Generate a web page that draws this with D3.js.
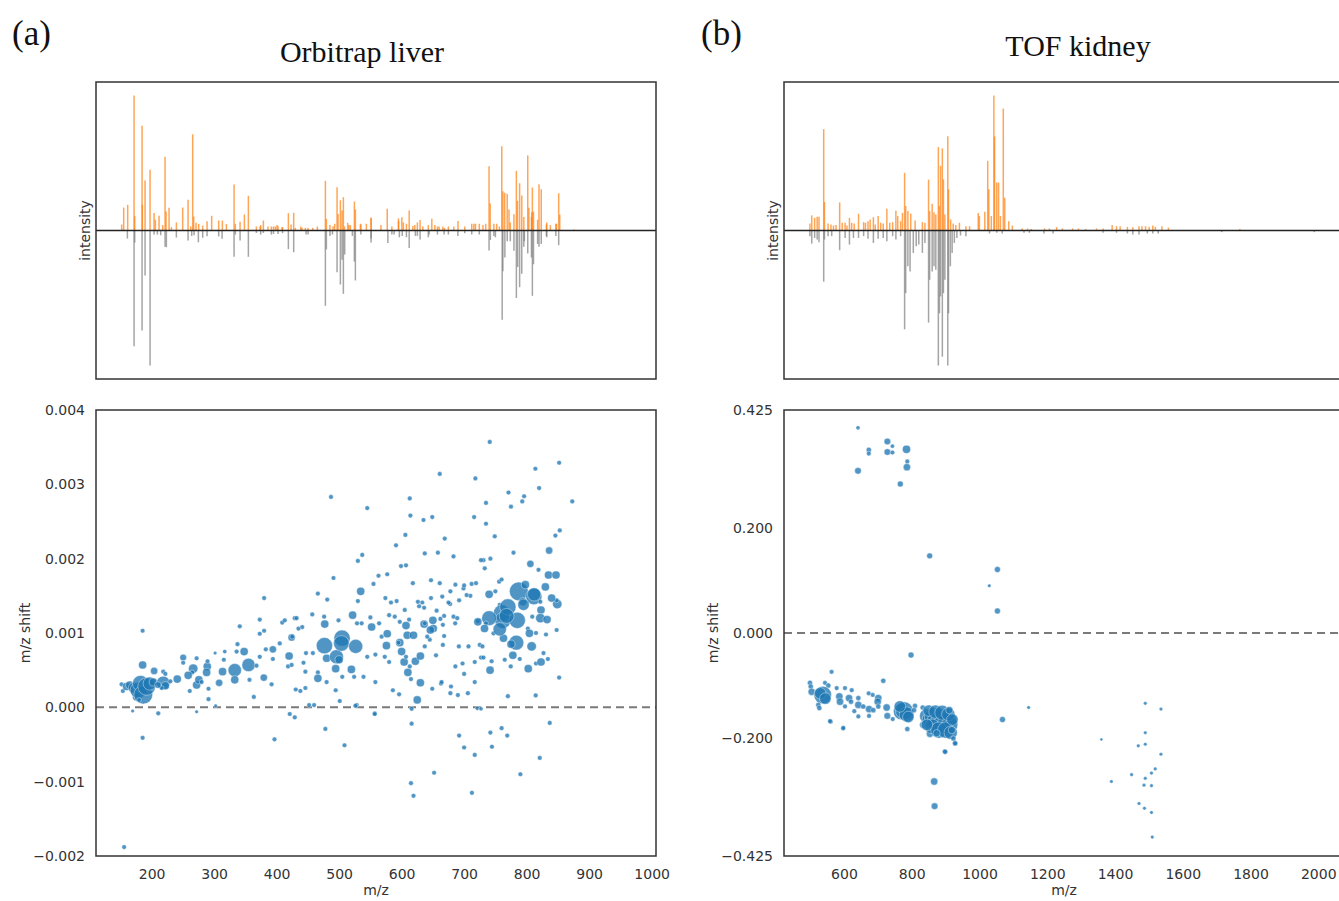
<!DOCTYPE html>
<html>
<head>
<meta charset="utf-8">
<script src="https://cdn.jsdelivr.net/npm/d3@7"></script>
<style>
  body { margin: 0; background: #fff; }
  .tick text { font-family: "DejaVu Sans", sans-serif; font-size: 14px; fill: #333; }
  .axis-label { font-family: "DejaVu Sans", sans-serif; font-size: 14px; fill: #333; }
  .title { font-family: "Liberation Serif", "DejaVu Serif", serif; fill: #111; }
</style>
</head>
<body>
<script>
// ---- data: spectra as [m/z, relative intensity] (measured up, reference down) ----
const orbiMeasured = [
  [152.1,0.044],[155.3,0.17],[161.7,0.19],[171.9,1.0],[172.9,0.106],[184.7,0.776],[185.2,0.19],[189.5,0.37],
  [197.5,0.45],[203.9,0.13],[206,0.08],[211.9,0.11],[217.7,0.04],[221.5,0.546],[223.1,0.14],[227.9,0.168],
  [231.6,0.025],[239.6,0.06],[249.7,0.17],[258.3,0.227],[262.5,0.03],[265.7,0.713],[267.3,0.104],[271.1,0.057],
  [275.3,0.049],[281.7,0.037],[288.7,0.069],[296.1,0.109],[307.3,0.074],[313.2,0.074],[319.6,0.049],[331.9,0.34],
  [334,0.049],[341.5,0.064],[348.4,0.119],[354.8,0.257],[367.6,0.03],[373.5,0.03],[374.5,0.04],[378.8,0.074],
  [386.2,0.03],[391.6,0.03],[395,0.03],[398,0.03],[400.7,0.04],[402.3,0.032],[408.7,0.025],[409.5,0.025],
  [418.8,0.128],[423.1,0.044],[427.3,0.131],[429.9,0.02],[438.6,0.03],[440.7,0.02],[446,0.02],[450.3,0.02],
  [457.7,0.02],[465.2,0.03],[478,0.368],[479.6,0.086],[485.3,0.04],[490.3,0.032],[492.9,0.05],[496.7,0.32],
  [498.3,0.123],[502,0.224],[504.7,0.148],[506.8,0.247],[508.6,0.03],[513.7,0.057],[515.6,0.04],[518,0.04],
  [524.4,0.215],[526,0.156],[534,0.044],[534.8,0.05],[543.6,0.05],[551.1,0.096],[551.2,0.09],[566.9,0.04],
  [577,0.161],[584.4,0.03],[594.9,0.09],[595.1,0.07],[600.4,0.099],[602.8,0.06],[607.7,0.05],[612.1,0.148],
  [618,0.034],[621.1,0.04],[625.2,0.06],[629.5,0.077],[634,0.03],[642.7,0.04],[648.3,0.087],[653.2,0.04],
  [657.3,0.03],[659.9,0.03],[666,0.03],[668.7,0.02],[674.8,0.03],[683.5,0.03],[690.2,0.07],[701,0.03],
  [712.2,0.05],[715.6,0.05],[718.2,0.05],[724.3,0.05],[730.1,0.04],[734.5,0.05],[739.9,0.476],[741.7,0.2],
  [747.6,0.05],[752.1,0.05],[756.4,0.03],[760.2,0.625],[762,0.29],[764.9,0.28],[768.9,0.273],[771.8,0.155],
  [773.9,0.06],[779.7,0.12],[783.6,0.442],[785.4,0.22],[788.8,0.35],[792.2,0.26],[795.5,0.1],[801.8,0.556],
  [803.6,0.168],[807.7,0.1],[808.2,0.135],[809.2,0.318],[811,0.14],[817.6,0.08],[819.8,0.342],[823.4,0.305],
  [831.6,0.045],[832.2,0.06],[838,0.04],[846.7,0.05],[847.9,0.05],[851.3,0.276],[853,0.118],[875.9,0.008]
];
const orbiReference = [
  [161.2,0.06],[171.9,0.857],[172.9,0.09],[184.7,0.74],[189.5,0.333],[197.5,1.0],[203.9,0.03],[209.2,0.03],
  [214.5,0.035],[221.5,0.12],[223.6,0.124],[239.6,0.052],[258.3,0.074],[264.1,0.04],[267.9,0.035],[274.8,0.087],
  [281.7,0.054],[288.7,0.042],[307.3,0.044],[312.7,0.062],[331.9,0.195],[334,0.03],[341.5,0.074],[354.8,0.195],
  [367.6,0.018],[374.5,0.03],[378.8,0.018],[391.6,0.03],[395,0.025],[402.3,0.025],[409.5,0.02],[418.8,0.138],
  [427.3,0.161],[447.1,0.03],[450.3,0.03],[478,0.558],[479.6,0.14],[485.3,0.04],[489.3,0.03],[496.7,0.309],
  [502,0.4],[504.7,0.216],[506.8,0.469],[508.9,0.178],[521.2,0.04],[524.4,0.23],[526,0.37],[534.8,0.03],
  [551.1,0.089],[551.2,0.06],[578,0.092],[584.4,0.03],[588,0.03],[596.4,0.05],[601,0.04],[607.7,0.05],
  [612.1,0.129],[622,0.04],[625.2,0.04],[629.5,0.067],[642.7,0.05],[644,0.03],[657.3,0.03],[668,0.03],
  [674.8,0.03],[690,0.04],[701,0.02],[712.2,0.03],[724.3,0.03],[739.9,0.149],[742,0.07],[747.6,0.04],
  [750,0.05],[760.9,0.662],[762,0.302],[765.2,0.2],[769,0.08],[773.9,0.08],[779.7,0.15],[783.6,0.5],
  [785.7,0.27],[788.8,0.42],[792.2,0.32],[795.5,0.12],[796.4,0.08],[801.8,0.17],[807.7,0.2],[809.2,0.484],
  [811,0.25],[817.6,0.1],[819.8,0.12],[823.4,0.1],[831.6,0.04],[832.2,0.05],[846.7,0.04],[851.3,0.109]
];
const tofMeasured = [
  [499.5,0.052],[504.9,0.112],[513.4,0.094],[520.9,0.102],[526.3,0.102],[540.2,0.751],[542.4,0.211],[553.1,0.052],
  [561.6,0.045],[569.1,0.037],[576.6,0.04],[587.3,0.208],[594.8,0.057],[603.4,0.057],[608.8,0.037],[616.2,0.094],
  [622.7,0.057],[630.2,0.052],[643,0.124],[658,0.062],[663.4,0.057],[670.9,0.069],[677.3,0.082],[686.9,0.099],
  [692.3,0.045],[700.9,0.107],[708.4,0.057],[715.8,0.052],[726.6,0.161],[735.1,0.057],[743.7,0.062],[753.3,0.146],
  [758.7,0.107],[767.3,0.069],[772.6,0.131],[779,0.427],[782.2,0.181],[788.7,0.144],[797.2,0.126],[810.1,0.074],
  [831.5,0.062],[839,0.057],[849.7,0.377],[852.9,0.144],[860.4,0.198],[865.8,0.136],[871.1,0.119],[878.6,0.618],
  [881.9,0.181],[885.1,0.479],[890.4,0.608],[893.6,0.379],[897.9,0.119],[906.5,0.699],[908.6,0.305],[915,0.082],
  [922.5,0.052],[930.1,0.04],[940.8,0.057],[960,0.032],[970.8,0.032],[996.4,0.129],[999.7,0.107],[1015.7,0.139],
  [1024.3,0.516],[1027.5,0.305],[1035,0.107],[1042.5,1.0],[1044.6,0.697],[1051.1,0.355],[1056.4,0.355],[1061.8,0.107],
  [1070.3,0.903],[1074.6,0.243],[1086.4,0.069],[1097.1,0.037],[1126,0.015],[1142.1,0.015],[1152.8,0.012],[1192.4,0.015],
  [1206.4,0.015],[1227.8,0.025],[1244.9,0.015],[1274.9,0.015],[1292,0.015],[1313.4,0.012],[1345.6,0.015],[1364.9,0.015],
  [1391.6,0.04],[1404.5,0.032],[1415.2,0.032],[1436.6,0.027],[1452.7,0.025],[1470.9,0.032],[1479.5,0.032],[1490.2,0.032],
  [1500.9,0.027],[1511.6,0.037],[1519.1,0.027],[1538.4,0.032],[1557.7,0.022],[1768.6,0.012]
];
const tofReference = [
  [499.5,0.042],[504.9,0.097],[513.4,0.055],[520.9,0.067],[526.3,0.087],[540.2,0.379],[542.4,0.067],[553.1,0.042],
  [563.8,0.042],[587.3,0.146],[603.4,0.055],[616.2,0.104],[628,0.055],[643,0.055],[658,0.042],[670.9,0.062],
  [686.9,0.092],[700.9,0.062],[715.8,0.055],[726.6,0.079],[743.7,0.042],[753.3,0.067],[767.3,0.042],[779,0.732],
  [782.2,0.464],[788.7,0.265],[795.1,0.303],[804.7,0.166],[813.3,0.117],[820.8,0.104],[831.5,0.166],[839,0.092],
  [849.7,0.682],[852.9,0.365],[860.4,0.303],[865.8,0.265],[871.1,0.29],[878.6,1.0],[881.9,0.613],[885.1,0.488],
  [890.4,0.935],[893.6,0.464],[897.9,0.365],[906.5,1.0],[908.6,0.613],[914,0.265],[919.3,0.166],[925.8,0.092],
  [933.3,0.055],[944,0.037],[960,0.042],[1029.6,0.022],[1051.1,0.017],[1067.1,0.022],[1131.4,0.017],[1147.4,0.017],
  [1190.3,0.022],[1217.1,0.022],[1364.9,0.017],[1404.5,0.017],[1436.6,0.022],[1452.7,0.03],[1470.9,0.03],[1495.5,0.022],
  [1511.6,0.022],[1527.7,0.022],[1715.1,0.012],[1988.2,0.012]
];

// ---- data: m/z shift per matched peak, [m/z, shift, peak weight] ----
// Orbitrap shifts are in mDa (0.001 Da)
const orbiShift = [
  [152,0.31,.05],[154,0.22,.05],[160,0.28,.15],[165,0.30,.15],[171,0.26,.25],[176,0.14,.15],[178.6,0.23,.6],
  [182.4,0.32,.6],[186.6,0.17,.8],[192,0.28,.7],[197,0.32,.4],[202.6,0.34,.15],[180,0.10,.05],[169.6,-0.05,.03],
  [185.6,1.03,.05],[185.6,0.57,.15],[204,0.49,.12],[218.6,0.48,.05],[222,0.45,.05],[218.6,0.33,.4],[222,0.29,.15],
  [216,0.26,.05],[210,0.30,.1],[230,0.35,.05],[241,0.38,.15],[250.5,0.67,.1],[250.5,0.60,.05],[261,0.22,.05],
  [266.5,0.52,.2],[265,0.47,.05],[258.5,0.43,.15],[272,0.30,.15],[275.6,0.37,.15],[272,0.66,.05],[280,0.34,.05],
  [289,0.55,.15],[289.5,0.62,.05],[288,0.47,.15],[291,0.25,.05],[291,0.11,.05],[301.6,0.73,.03],[302.5,0.02,.03],
  [308,0.33,.12],[313.5,0.48,.15],[315.5,0.64,.05],[317,0.75,.04],[333,0.50,.4],[333,0.37,.15],[337.4,0.85,.05],
  [341,1.09,.05],[336,0.75,.05],[348,0.75,.15],[355,0.57,.4],[356.6,0.37,.05],[363.5,0.14,.05],[367.8,0.56,.05],
  [373,1.18,.05],[373,0.99,.05],[380,1.03,.05],[380,1.47,.05],[373,0.68,.05],[379.5,0.40,.12],[382.7,0.78,.05],
  [392,0.31,.05],[394,0.78,.12],[394,0.65,.05],[405,0.86,.05],[409,1.14,.05],[413,1.17,.05],[420,0.69,.15],
  [418.3,0.55,.05],[424,0.94,.12],[425,0.95,.05],[429,1.20,.05],[435,1.06,.05],[430.6,0.24,.05],[210.6,-0.08,.05],
  [272,-0.06,.03],[421,-0.09,.05],[429,-0.135,.05],[185.6,-0.41,.05],[156,-1.88,.05],[396.6,-0.43,.05],
  [441,1.08,.05],[432,1.20,.05],[424,0.57,.05],[447,0.73,.05],[458,0.73,.05],[443,0.60,.05],[446,0.48,.05],
  [466,0.47,.05],[466,0.39,.15],[446,0.26,.05],[438,0.22,.05],[480,0.34,.05],[476.5,0.83,.6],[480,0.66,.15],
  [495.7,0.68,.45],[504.7,0.93,.6],[503.6,0.86,.55],[500,0.64,.15],[526.5,0.82,.45],[545,0.68,.05],[558,0.71,.05],
  [494.5,0.52,.15],[505,0.41,.05],[519.6,0.51,.15],[524,0.41,.05],[539,0.41,.05],[558,0.34,.05],[494.5,0.23,.05],
  [501,0.085,.05],[528,0.03,.05],[557,-0.08,.05],[586,0.23,.05],[596,0.175,.05],[457,1.25,.05],[466,1.53,.05],
  [481,1.45,.05],[476,1.22,.05],[477,1.12,.15],[499,1.17,.05],[521.6,1.24,.15],[528.6,1.13,.05],[536,1.13,.05],
  [550,1.21,.05],[552,1.08,.15],[564,1.13,.05],[568,0.95,.05],[534.5,1.56,.15],[530,1.43,.05],[491,1.74,.05],
  [574,1.47,.05],[592,1.43,.05],[583,1.41,.05],[580,1.24,.05],[589,1.22,.05],[605,1.31,.05],[597,1.15,.05],
  [612,1.18,.05],[607,1.10,.15],[609,0.97,.15],[619,0.97,.15],[597,0.87,.15],[600,0.75,.15],[604,0.61,.15],
  [607,0.68,.05],[610,0.47,.15],[613,0.55,.05],[615,0.38,.05],[622,0.62,.15],[630,0.69,.15],[630,0.33,.15],
  [625,0.10,.15],[577,0.99,.15],[575.7,0.83,.15],[573,0.68,.05],[580,0.61,.05],[595,0.87,.05],[563,1.77,.05],
  [577,1.79,.05],[555,1.66,.05],[618,1.67,.05],[647,1.71,.05],[661,1.67,.05],[599,1.90,.05],[607,1.91,.05],
  [537,2.05,.05],[530,1.97,.05],[591,2.18,.05],[637,2.07,.05],[658,2.08,.05],[683,2.03,.05],[606,2.32,.05],
  [669,2.27,.05],[614,2.58,.05],[635,2.52,.05],[649,2.56,.05],[487,2.83,.05],[613,2.81,.05],[545,2.68,.05],
  [661,3.14,.05],[718,3.08,.05],[735,2.75,.05],[716,2.56,.05],[735,2.47,.05],[749,2.30,.05],[741,3.57,.05],
  [852,3.29,.05],[814,3.21,.05],[873,2.77,.05],[820,2.95,.05],[796,2.84,.05],[793,2.77,.05],[771,2.89,.05],
  [775,2.70,.05],[853,2.38,.05],[846,2.31,.05],[836,2.11,.12],[779,2.08,.05],[731,1.98,.05],[742,2.00,.05],
  [806,1.93,.12],[819,1.85,.05],[835,1.78,.15],[847,1.78,.15],[756,1.69,.05],[733,1.87,.05],
  [710,1.50,.05],[699,1.60,.05],[686,1.65,.05],[678,1.56,.05],[665,1.49,.05],[647,1.47,.05],[633,1.41,.05],
  [636,1.34,.05],[636,1.12,.15],[650.6,1.06,.15],[677.6,1.39,.05],[683,1.22,.05],[685.7,1.13,.05],[666,1.11,.05],
  [668,0.96,.05],[645,0.91,.05],[637,0.82,.05],[666,0.84,.05],[691.6,0.82,.05],[697.5,0.59,.05],[707,0.82,.05],
  [717,0.61,.05],[727,0.67,.05],[717,0.34,.05],[706,0.19,.05],[690,0.165,.05],[679,0.28,.05],[663,0.32,.05],
  [649,0.25,.05],[664,0.34,.05],[678,0.19,.05],[668,1.23,.05],[650,1.17,.15],[646,1.04,.15],[637,1.13,.05],
  [704,1.51,.05],[700,1.64,.05],[712,1.66,.05],[719,1.67,.05],[692,1.44,.05],[675,1.41,.05],[656,1.30,.05],
  [628,1.36,.05],[626,1.42,.05],[662,1.19,.05],[689,1.20,.05],[722,1.16,.05],[641,0.95,.05],[655,0.70,.05],
  [700,0.45,.05],[686,0.55,.05],
  [740,1.52,.15],[750,1.56,.05],[787.5,1.56,.8],[798,1.65,.15],[811.5,1.49,.6],[794,1.42,.15],[822,1.42,.05],
  [849,1.39,.2],[848,1.44,.05],[757,1.38,.05],[760,1.27,.6],[762,1.17,.6],[740,1.20,.5],[735,1.13,.05],
  [722,1.15,.15],[785,1.17,.6],[823,1.31,.15],[822,1.20,.2],[809,1.22,.05],[832.7,1.18,.15],[802,1.06,.05],
  [804.5,0.995,.15],[815,1.00,.05],[848,1.04,.05],[831,0.98,.05],[763,0.93,.15],[747,0.995,.05],[732.6,1.06,.15],
  [725,0.84,.05],[729.4,0.82,.05],[783.5,0.87,.5],[775,0.85,.15],[808,0.82,.2],[778,0.70,.15],[789,0.65,.05],
  [765,0.64,.05],[774.6,0.55,.05],[802.6,0.52,.15],[815,0.59,.05],[823,0.61,.15],[827,0.73,.05],[834,0.65,.05],
  [741.5,0.50,.15],[744,0.62,.05],[731,0.67,.05],[852,0.40,.05],[814.5,0.16,.05],[770,0.15,.05],[721,-0.013,.04],
  [727,-0.02,.04],[760,-0.28,.05],[837,-0.21,.05],[742,-0.34,.05],[769,-0.38,.05],[744.5,-0.53,.05],[790,-0.90,.05],
  [821,-0.68,.05],[692,-0.38,.05],[700,-0.54,.05],[717,-0.64,.05],[712.5,-1.15,.05],[652,-0.88,.05],[615,-1.02,.05],
  [619,-1.19,.05],[616,-0.22,.05],[616,-0.02,.05],[557,-0.09,.05],[508.6,-0.51,.05],[478,-0.29,.05],[452,0.03,.05],
  [460,0.03,.05],[526,0.02,.05],[727,1.98,.05],[760,1.72,.05],[770,1.35,.6],[812,1.52,.4],[830,1.62,.15],
  [840,1.47,.15],[768,1.23,.5],[757,1.05,.4],[795,1.38,.3]
];
// TOF shifts are in Da
const tofShift = [
  [641.4,0.391,.04],[673.3,0.349,.06],[673.3,0.342,.05],[728.2,0.365,.1],[743,0.356,.04],[728.2,0.345,.1],
  [743,0.344,.05],[784.6,0.350,.15],[787,0.327,.05],[785.8,0.316,.12],[641.4,0.309,.1],[766.3,0.284,.08],
  [853,0.147,.08],[1053,0.121,.08],[1029,0.090,.03],[1053,0.042,.08],
  [797.9,-0.042,.08],[1489.4,-0.134,.03],[1535.7,-0.145,.03],[1145,-0.142,.03],[1067.9,-0.165,.08],
  [1359.8,-0.203,.02],[1489.4,-0.19,.03],[1489.4,-0.212,.03],[1468.8,-0.215,.03],[1535.7,-0.231,.03],
  [1518.7,-0.259,.03],[1507.7,-0.267,.03],[1449,-0.270,.03],[1489.4,-0.277,.03],[1389.4,-0.283,.03],
  [1485.6,-0.290,.03],[1507.7,-0.291,.03],[1471,-0.325,.03],[1487,-0.334,.03],[1507.7,-0.342,.03],
  [1510,-0.389,.03],[866.3,-0.283,.12],[867.5,-0.33,.1],[899.4,-0.227,.05],[928.6,-0.211,.05],
  [560.8,-0.169,.05],[597.4,-0.182,.05],[563.5,-0.074,.05],[716,-0.091,.06],
  [499.7,-0.095,.06],[502,-0.102,.06],[544,-0.095,.05],[553.8,-0.10,.06],[504.8,-0.112,.12],[537.2,-0.118,.7],
  [530,-0.115,.3],[545,-0.125,.3],[524.3,-0.137,.06],[527.3,-0.143,.06],[578.5,-0.105,.05],[586.3,-0.121,.12],
  [603,-0.105,.05],[588.3,-0.131,.12],[603,-0.14,.05],[622.8,-0.109,.05],[614.9,-0.124,.12],[620.8,-0.131,.06],
  [642.4,-0.124,.06],[642.4,-0.137,.12],[630.5,-0.149,.05],[657,-0.14,.06],[673,-0.115,.05],[684.8,-0.118,.05],
  [674,-0.145,.12],[686.6,-0.147,.06],[701.3,-0.124,.12],[699.6,-0.131,.12],[701.3,-0.14,.06],[674,-0.158,.05],
  [642.4,-0.159,.05],[726,-0.142,.12],[728,-0.158,.1],[744,-0.164,.05],[770,-0.15,.6],[778,-0.148,.7],
  [785,-0.155,.5],[765,-0.14,.3],[790,-0.16,.3],[809.7,-0.139,.06],[806.7,-0.147,.06],[787,-0.183,.06],
  [832.4,-0.142,.06],[834,-0.175,.12],[853.9,-0.192,.12],[845,-0.158,.5],[855,-0.165,.6],[865,-0.160,.8],
  [875,-0.168,.9],[885,-0.162,.8],[895,-0.172,.9],[905,-0.168,.8],[912,-0.175,.6],[860,-0.178,.5],
  [880,-0.185,.6],[900,-0.185,.6],[915,-0.19,.4],[850,-0.148,.3],[870,-0.15,.4],[890,-0.152,.5],
  [908,-0.155,.4],[845,-0.175,.3],[920,-0.165,.3],[911,-0.147,.12],[918.5,-0.185,.12],[923,-0.201,.06],
  [928,-0.21,.06],[898,-0.226,.06],[873.5,-0.191,.12],[558.8,-0.168,.05],[598,-0.181,.05]
];

// ---- tick values ----
const orbiXTicks = [200, 300, 400, 500, 600, 700, 800, 900, 1000];
const orbiYTicks = [-0.002, -0.001, 0, 0.001, 0.002, 0.003, 0.004];
const tofXTicks = [600, 800, 1000, 1200, 1400, 1600, 1800, 2000];
const tofYTicks = [-0.425, -0.2, 0, 0.2, 0.425];

const W = 1339, H = 901;
const svg = d3.select("body").append("svg").attr("width", W).attr("height", H);

const specTop = 82, specBottom = 379, shiftTop = 410, shiftBottom = 856;
const fmt = v => d3.format(".3f")(v).replace("-", "\u2212");

function drawPanel(opt) {
    const x = d3.scaleLinear().domain(opt.xDomain).range([opt.left, opt.left + 560]);
    const ySpec = d3.scaleLinear().domain([-1.1, 1.1]).range([specBottom, specTop]);
    const yShift = d3.scaleLinear().domain(opt.yDomain).range([shiftBottom, shiftTop]);

    // spectrum: measured up (orange), reference down (gray)
    const spec = svg.append("g");
    spec.selectAll(".up").data(opt.measured).enter().append("line")
        .attr("x1", d => x(d[0])).attr("x2", d => x(d[0]))
        .attr("y1", ySpec(0)).attr("y2", d => ySpec(d[1]))
        .style("stroke", "#ff7f0e").style("stroke-opacity", 0.7).style("stroke-width", 1.5);
    spec.selectAll(".down").data(opt.reference).enter().append("line")
        .attr("x1", d => x(d[0])).attr("x2", d => x(d[0]))
        .attr("y1", ySpec(0)).attr("y2", d => ySpec(-d[1]))
        .style("stroke", "#7f7f7f").style("stroke-opacity", 0.7).style("stroke-width", 1.5);
    spec.append("line")
        .attr("x1", opt.left).attr("x2", opt.left + 560)
        .attr("y1", ySpec(0)).attr("y2", ySpec(0))
        .style("stroke", "#222").style("stroke-width", 1.6);
    spec.append("rect")
        .attr("x", opt.left).attr("y", specTop)
        .attr("width", 560).attr("height", specBottom - specTop)
        .style("fill", "none").style("stroke", "#333").style("stroke-width", 1.5);

    svg.append("text")
        .attr("class", "axis-label")
        .attr("transform", `translate(${opt.left - 6},${(specTop + specBottom) / 2}) rotate(-90)`)
        .style("text-anchor", "middle")
        .text("intensity");

    // shift scatter
    const r = d3.scaleSqrt().domain([0, 1]).range([0, 10.5]);
    svg.append("line")
        .attr("x1", opt.left).attr("x2", opt.left + 560)
        .attr("y1", yShift(0)).attr("y2", yShift(0))
        .style("stroke", "#7a7a7a").style("stroke-width", 2)
        .style("stroke-dasharray", "8,5");
    svg.append("g").selectAll("circle").data(opt.shift).enter().append("circle")
        .attr("cx", d => x(d[0]))
        .attr("cy", d => yShift(d[1] * opt.yUnit))
        .attr("r", d => r(d[2]))
        .style("fill", "#1f77b4").style("fill-opacity", 0.78)
        .style("stroke", "#fff").style("stroke-width", 0.4);
    svg.append("rect")
        .attr("x", opt.left).attr("y", shiftTop)
        .attr("width", 560).attr("height", shiftBottom - shiftTop)
        .style("fill", "none").style("stroke", "#333").style("stroke-width", 1.5);

    // axes (no tick marks, seaborn-white look)
    const gx = svg.append("g")
        .attr("transform", `translate(0,${shiftBottom})`)
        .call(d3.axisBottom(x).tickValues(opt.xTicks).tickSize(0).tickPadding(13).tickFormat(d3.format("d")));
    gx.select(".domain").remove();
    const gy = svg.append("g")
        .attr("transform", `translate(${opt.left},0)`)
        .call(d3.axisLeft(yShift).tickValues(opt.yTicks).tickSize(0).tickPadding(11).tickFormat(fmt));
    gy.select(".domain").remove();

    svg.append("text")
        .attr("class", "axis-label")
        .attr("x", opt.left + 280).attr("y", 895)
        .style("text-anchor", "middle")
        .text("m/z");
    svg.append("text")
        .attr("class", "axis-label")
        .attr("transform", `translate(${opt.left - 66},${(shiftTop + shiftBottom) / 2}) rotate(-90)`)
        .style("text-anchor", "middle")
        .text("m/z shift");

    // titles
    svg.append("text").attr("class", "title")
        .attr("x", opt.letterX).attr("y", 45).style("font-size", "35px")
        .text(opt.letter);
    svg.append("text").attr("class", "title")
        .attr("x", opt.titleX).attr("y", opt.titleY).style("font-size", "30px")
        .style("text-anchor", "middle")
        .text(opt.title);
}

drawPanel({
    left: 96, xDomain: [111, 1007], yDomain: [-0.002, 0.004], yUnit: 0.001,
    measured: orbiMeasured, reference: orbiReference, shift: orbiShift,
    xTicks: orbiXTicks, yTicks: orbiYTicks,
    letter: "(a)", letterX: 12, title: "Orbitrap liver", titleX: 362, titleY: 62
});
drawPanel({
    left: 784, xDomain: [423, 2076], yDomain: [-0.425, 0.425], yUnit: 1,
    measured: tofMeasured, reference: tofReference, shift: tofShift,
    xTicks: tofXTicks, yTicks: tofYTicks,
    letter: "(b)", letterX: 701, title: "TOF kidney", titleX: 1078, titleY: 56
});
</script>
</body>
</html>
